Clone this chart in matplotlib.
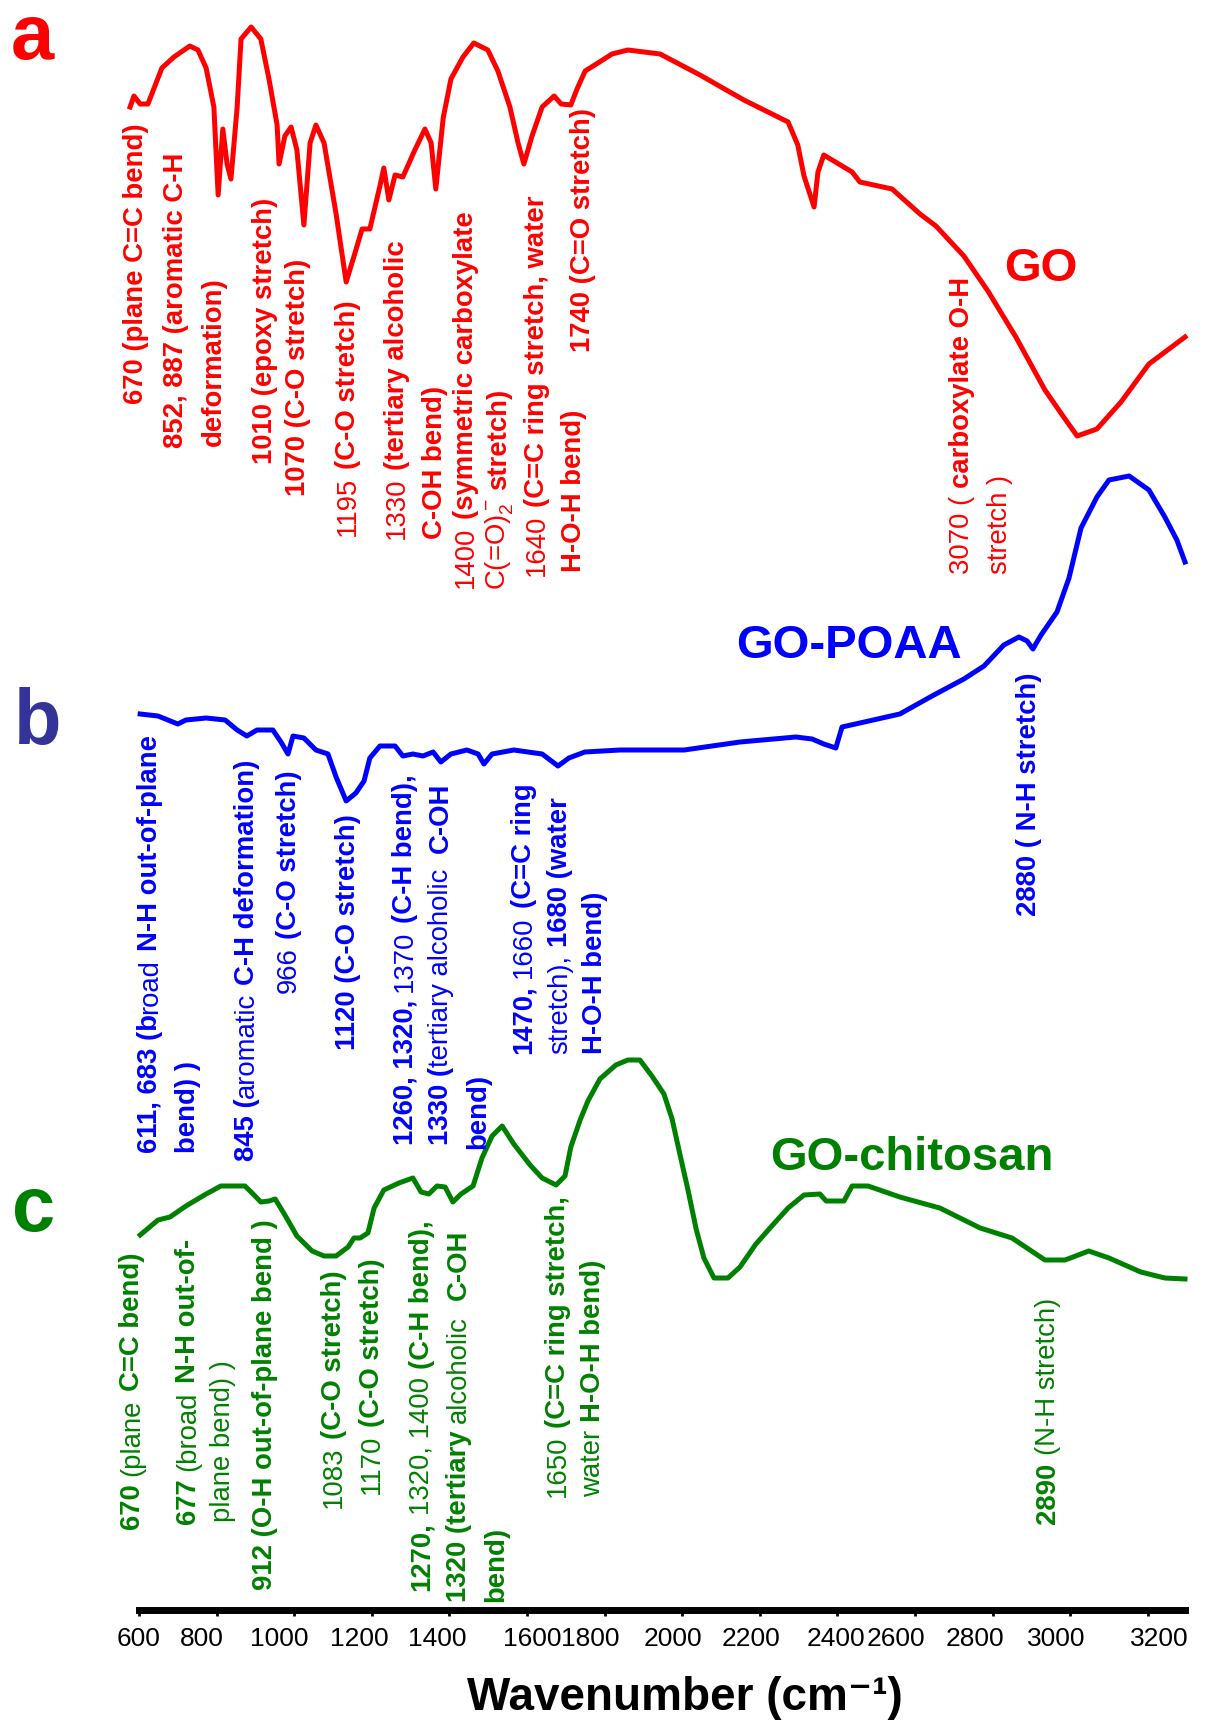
import matplotlib
matplotlib.use("Agg")
import matplotlib.pyplot as plt
from matplotlib.transforms import ScaledTranslation

plt.rcParams['font.family'] = ['Liberation Sans', 'DejaVu Sans']
plt.rcParams['mathtext.fontset'] = 'custom'
plt.rcParams['mathtext.rm'] = 'Liberation Sans'
plt.rcParams['mathtext.bf'] = 'Liberation Sans:bold'

RED = '#ff0000'
BLUE = '#0000ff'
GREEN = '#008000'

# spectra: wavenumber (cm-1) and offset transmittance (a.u.)
go_wn = [577, 587, 603, 623, 659, 690, 731, 752, 773, 793, 804, 816, 827, 837, 853, 863, 889, 914, 935, 956,
         961, 976, 992, 1007, 1025, 1041, 1056, 1077, 1108, 1134, 1159, 1175, 1195, 1221, 1231, 1244, 1260, 1280,
         1311, 1337, 1353, 1365, 1384, 1404, 1435, 1463, 1499, 1525, 1556, 1577, 1592, 1613, 1639, 1670, 1688,
         1713, 1729, 1750, 1791, 1819, 1860, 1943, 2046, 2159, 2273, 2298, 2314, 2340, 2350, 2365, 2438, 2458,
         2541, 2613, 2654, 2726, 2788, 2860, 2935, 2976, 3018, 3069, 3131, 3203, 3296]
go_t = [150.3, 151.4, 150.6, 150.6, 154.2, 155.3, 156.4, 156.0, 154.2, 150.3, 141.5, 148.1, 144.6, 143.1, 150.3,
        157.1, 158.3, 157.1, 153.1, 148.5, 144.6, 147.4, 148.3, 146.0, 138.5, 146.7, 148.5, 146.7, 139.6, 132.8,
        136.0, 138.1, 138.1, 142.4, 144.2, 141.0, 143.5, 143.3, 146.0, 148.1, 146.7, 142.1, 149.2, 153.1, 155.3,
        156.7, 156.0, 153.9, 150.3, 146.7, 144.6, 147.4, 150.3, 151.4, 150.6, 150.5, 152.1, 153.9, 154.9, 155.6,
        156.0, 155.6, 153.5, 151.0, 148.8, 146.5, 143.4, 140.3, 143.8, 145.5, 143.8, 142.8, 142.1, 139.6, 138.4,
        135.4, 131.9, 127.3, 122.0, 119.7, 117.4, 118.1, 120.8, 124.6, 127.3]

poaa_wn = [603, 649, 700, 721, 773, 822, 853, 878, 904, 945, 966, 984, 997, 1025, 1056, 1087, 1108, 1134, 1159,
           1180, 1195, 1221, 1260, 1280, 1306, 1332, 1358, 1378, 1404, 1445, 1474, 1489, 1510, 1566, 1639, 1680,
           1708, 1749, 1840, 2005, 2149, 2293, 2335, 2365, 2396, 2412, 2458, 2561, 2644, 2726, 2778, 2829, 2868,
           2889, 2904, 2925, 2966, 2997, 3028, 3069, 3100, 3152, 3203, 3244, 3275, 3296]
poaa_t = [89.6, 89.4, 88.6, 89.0, 89.2, 89.0, 88.0, 87.4, 88.0, 88.0, 86.8, 85.6, 87.4, 87.2, 86.0, 85.6, 83.3,
          80.9, 81.7, 82.9, 85.2, 86.4, 86.4, 85.4, 85.6, 85.4, 85.8, 84.8, 85.6, 86.0, 85.6, 84.6, 85.6, 86.0,
          85.6, 84.4, 85.2, 85.8, 86.0, 86.0, 86.8, 87.3, 87.1, 86.6, 86.2, 88.3, 88.7, 89.6, 91.4, 93.1, 94.4,
          96.5, 97.3, 96.9, 96.1, 97.5, 99.8, 103.2, 108.2, 111.3, 113.0, 113.4, 112.0, 109.3, 107.0, 104.8]

chi_wn = [603, 649, 680, 721, 773, 811, 873, 894, 914, 935, 951, 976, 1007, 1046, 1077, 1108, 1139, 1154, 1170,
          1190, 1206, 1231, 1270, 1306, 1327, 1347, 1368, 1389, 1409, 1430, 1461, 1484, 1510, 1536, 1566, 1608,
          1639, 1675, 1698, 1713, 1737, 1757, 1788, 1829, 1860, 1891, 1922, 1953, 1974, 1994, 2015, 2036, 2056,
          2082, 2118, 2149, 2190, 2231, 2273, 2314, 2355, 2371, 2417, 2438, 2479, 2561, 2664, 2768, 2850, 2935,
          2987, 3048, 3100, 3182, 3244, 3296]
chi_t = [37.5, 39.0, 39.3, 40.4, 41.6, 42.4, 42.4, 41.6, 40.8, 40.9, 41.1, 39.5, 37.4, 35.9, 35.4, 35.4, 36.3,
         37.2, 37.2, 37.7, 40.2, 42.0, 42.7, 43.2, 41.8, 41.6, 42.4, 42.3, 40.8, 41.6, 42.4, 45.2, 47.4, 48.4,
         46.6, 44.5, 43.2, 42.5, 43.4, 46.3, 49.0, 50.9, 53.1, 54.5, 55.0, 55.0, 53.4, 51.6, 49.1, 45.6, 42.0,
         38.1, 35.2, 33.2, 33.2, 34.3, 36.6, 38.4, 40.2, 41.5, 41.6, 40.9, 40.9, 42.4, 42.4, 41.3, 40.2, 38.2,
         37.2, 35.0, 35.0, 35.9, 35.2, 33.8, 33.2, 33.1]

tick_values = [600, 800, 1000, 1200, 1400, 1600, 1800, 2000, 2200, 2400, 2600, 2800, 3000, 3200]
# the original tick labels sit a little off their ticks (pixels, + = right)
tick_label_shift = [0, -15, -15, -12, -12, 5, -14, -9, -9, -1, -19, -18, -14, 12]

# peak assignments: (wavenumber, height of text start, [(text, bold), ...]); leading spaces = gap
go_labels = [
    (592, 120.6, [("670 (plane C=C bend)", True)]),
    (695, 116.2, [("852, 887 (aromatic C-H", True)]),
    (792, 116.4, [("deformation)", True)]),
    (925, 114.6, [("1010 (epoxy stretch)", True)]),
    (1011, 111.4, [("1070 (C-O stretch)", True)]),
    (1139, 107.4, [("1195", False), (" (C-O stretch)", True)]),
    (1265, 107.1, [("1330", False), (" (tertiary alcoholic", True)]),
    (1363, 107.1, [("C-OH bend)", True)]),
    (1443, 102.2, [("1400", False), (" (symmetric carboxylate", True)]),
    (1528, 102.0, [("C(=O)$_2^-$", False), (" stretch)", True)]),
    (1626, 103.4, [("1640", False), (" (C=C ring stretch, water", True)]),
    (1721, 103.8, [("H-O-H bend)", True)]),
    (1744, 125.8, [("1740 (C=O stretch)", True)]),
    (2721, 103.6, [("3070 (", False), (" carboxylate O-H", True)]),
    (2819, 103.6, [("stretch )", False)]),
]

poaa_labels = [
    (628, 45.7, [("611, 683 (b", True), ("road", False), (" N-H out-of-plane", True)]),
    (726, 45.7, [("bend) )", True)]),
    (878, 44.9, [("845 (", True), ("aromatic", False), (" C-H deformation)", True)]),
    (987, 61.7, [("966", False), (" (C-O stretch)", True)]),
    (1139, 56.0, [("1120 (C-O stretch)", True)]),
    (1286, 46.5, [("1260, 1320,", True), (" 1370", False), (" (C-H bend),", True)]),
    (1378, 46.5, [("1330 (", True), ("tertiary alcoholic", False), ("  C-OH", True)]),
    (1474, 46.1, [("bend)", True)]),
    (1592, 55.6, [("1470,", True), (" 1660", False), (" (C=C ring", True)]),
    (1685, 55.6, [("stretch),", False), (" 1680 (water", True)]),
    (1775, 55.6, [("H-O-H bend)", True)]),
    (2894, 69.4, [("2880 ( N-H stretch)", True)]),
]

chi_labels = [
    (582, 8.1, [("670", True), (" (plane", False), (" C=C bend)", True)]),
    (726, 8.6, [("677", True), (" (broad", False), (" N-H out-of-", True)]),
    (817, 8.8, [("plane bend) )", False)]),
    (925, 2.0, [("912 (O-H out-of-plane bend )", True)]),
    (1103, 10.2, [("1083", False), (" (C-O stretch)", True)]),
    (1201, 11.6, [("1170", False), (" (C-O stretch)", True)]),
    (1329, 1.9, [("1270,", True), (" 1320, 1400", False), (" (C-H bend),", True)]),
    (1425, 0.8, [("1320 (tertiary", True), (" alcoholic", False), ("  C-OH", True)]),
    (1520, 0.8, [("bend)", True)]),
    (1679, 11.3, [("1650", False), (" (C=C ring stretch,", True)]),
    (1770, 11.3, [("water", False), (" H-O-H bend)", True)]),
    (2944, 8.6, [("2890", True), (" (N-H stretch)", False)]),
]

LABEL_SIZE = 19.8


def vertical_label(ax, wn, y, segments, color):
    prev = None
    for text, bold in segments:
        gap = (len(text) - len(text.lstrip(' '))) * 0.28 * LABEL_SIZE
        text = text.strip(' ')
        weight = 'bold' if bold else 'normal'
        if prev is None:
            prev = ax.text(wn, y, text, rotation=90, ha='center', va='bottom',
                           color=color, fontsize=LABEL_SIZE, fontweight=weight)
        else:
            prev = ax.annotate(text, xy=(0.5, 1.0), xycoords=prev, xytext=(0, gap),
                               textcoords='offset points', rotation=90, ha='center',
                               va='bottom', color=color, fontsize=LABEL_SIZE, fontweight=weight)


fig = plt.figure(figsize=(12.08, 17.2), dpi=100)
ax = fig.add_axes([139 / 1208, 110 / 1720, 1046 / 1208, 1610 / 1720])

ax.plot(go_wn, go_t, color=RED, lw=3.6, clip_on=False)
ax.plot(poaa_wn, poaa_t, color=BLUE, lw=3.6, clip_on=False)
ax.plot(chi_wn, chi_t, color=GREEN, lw=3.6, clip_on=False)

for labels, color in [(go_labels, RED), (poaa_labels, BLUE), (chi_labels, GREEN)]:
    for wn, y, segs in labels:
        vertical_label(ax, wn, y, segs, color)

ax.text(2829, 132.9, "GO", color=RED, fontsize=34, fontweight='bold', ha='left', va='baseline')
ax.text(2139, 95.2, "GO-POAA", color=BLUE, fontsize=34, fontweight='bold', ha='left', va='baseline')
ax.text(2226, 44.0, "GO-chitosan", color=GREEN, fontsize=34, fontweight='bold', ha='left', va='baseline')

fig.text(11 / 1208, 1 - 59 / 1720, "a", color=RED, fontsize=56, fontweight='bold', va='baseline')
fig.text(14 / 1208, 1 - 744 / 1720, "b", color='#333399', fontsize=56, fontweight='bold', va='baseline')
fig.text(12 / 1208, 1 - 1231 / 1720, "c", color=GREEN, fontsize=56, fontweight='bold', va='baseline')

ax.set_xlim(600, 3296)
ax.set_ylim(0, 161)
for side in ['left', 'right', 'top']:
    ax.spines[side].set_visible(False)
ax.spines['bottom'].set_linewidth(5)
ax.set_yticks([])
ax.set_xticks(tick_values)
ax.set_xticklabels([str(v) for v in tick_values])
ax.tick_params(axis='x', direction='out', length=4, width=2, pad=8, labelsize=19)
for lab, dx in zip(ax.get_xticklabels(), tick_label_shift):
    lab.set_transform(lab.get_transform() + ScaledTranslation(dx / 100, 0, fig.dpi_scale_trans))
ax.patch.set_alpha(0)

fig.text(685 / 1208, 1 - 1710 / 1720, "Wavenumber (cm\u207b\u00b9)", fontsize=33,
         fontweight='bold', ha='center', va='baseline')

fig.savefig("out.png", dpi=100)
